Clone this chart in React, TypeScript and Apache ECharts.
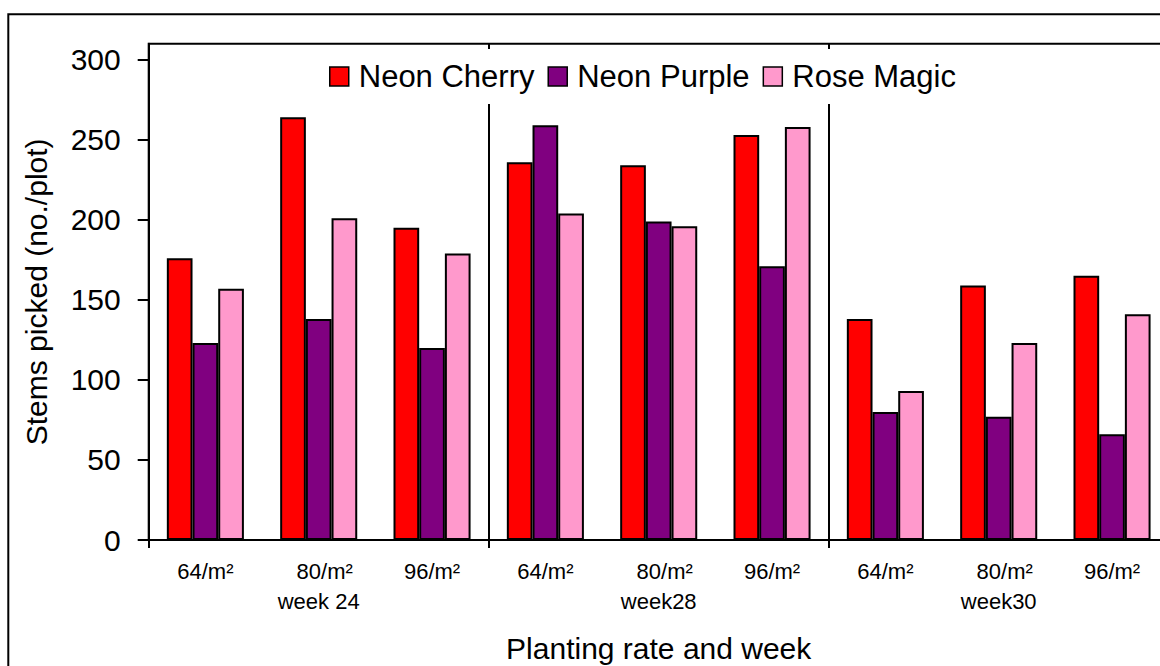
import React, { useEffect, useRef } from "react";
import * as echarts from "echarts";

const rates = ["64/m²", "80/m²", "96/m²"];
const weeks = ["week 24", "week28", "week30"];
const seriesNames = ["Neon Cherry", "Neon Purple", "Rose Magic"];
const neonCherry = [176, 264, 195, 236, 234, 253, 138, 159, 165];
const neonPurple = [123, 138, 120, 259, 199, 171, 80, 77, 66];
const roseMagic = [157, 201, 179, 204, 196, 258, 93, 123, 141];
const yTicks = [0, 50, 100, 150, 200, 250, 300];
const colors = ["#FF0000", "#800080", "#FF99CC"];

const categories: string[] = [];
weeks.forEach((w) => {
  rates.forEach((r) => {
    categories.push(r);
  });
});

const FONT = '"Liberation Sans", Arial, Helvetica, sans-serif';

export default function App() {
  const ref = useRef<HTMLDivElement>(null);
  useEffect(() => {
    if (!ref.current) return;
    const chart = echarts.init(ref.current, null, { renderer: "svg" });
    const dataSets = [neonCherry, neonPurple, roseMagic];
    chart.setOption({
      animation: false,
      backgroundColor: "#ffffff",
      textStyle: { fontFamily: FONT, color: "#000" },
      graphic: [
        {
          type: "rect",
          z: -10,
          shape: { x: 8.3, y: 14.3, width: 1400, height: 900 },
          style: { fill: "none", stroke: "#000", lineWidth: 2 },
          silent: true,
        },
      ],
      grid: {
        left: 148.7,
        top: 43.7,
        width: 1020,
        height: 496.3,
        show: true,
        borderColor: "#000",
        borderWidth: 2,
        backgroundColor: "transparent",
        containLabel: false,
        outerBoundsMode: "none",
      },
      legend: {
        data: seriesNames,
        icon: "rect",
        left: 321,
        top: 49,
        padding: [12, 8, 12, 8],
        backgroundColor: "#ffffff",
        itemWidth: 19,
        itemHeight: 19,
        itemGap: 13,
        z: 10,
        itemStyle: { borderColor: "#000", borderWidth: 1.5 },
        textStyle: {
          fontFamily: FONT,
          fontSize: 31,
          color: "#000",
          padding: [0, 0, 0, 5],
        },
      },
      xAxis: {
        type: "category",
        data: categories,
        boundaryGap: true,
        name: "Planting rate and week",
        nameLocation: "middle",
        nameGap: 93,
        nameTextStyle: { fontFamily: FONT, fontSize: 30, color: "#000" },
        axisLine: { show: true, lineStyle: { color: "#000", width: 2 } },
        axisTick: {
          show: true,
          length: 8,
          interval: (i: number) => i % 3 === 0,
          lineStyle: { color: "#000", width: 2 },
        },
        splitLine: {
          show: true,
          interval: (i: number) => i === 3 || i === 6,
          lineStyle: { color: "#000", width: 2 },
        },
        axisLabel: {
          interval: 0,
          fontFamily: FONT,
          fontSize: 22,
          lineHeight: 30,
          margin: 16,
          color: "#000",
          formatter: (value: string, index: number) => {
            const wi = Math.floor(index / 3);
            if (index % 3 === 1) {
              return "{a|" + value + "}\n{b|" + weeks[wi] + "}";
            }
            return "{b|" + value + "}";
          },
          rich: {
            a: {
              fontFamily: FONT,
              fontSize: 22,
              lineHeight: 30,
              color: "#000",
              padding: [0, 0, 0, 12],
            },
            b: {
              fontFamily: FONT,
              fontSize: 22,
              lineHeight: 30,
              color: "#000",
            },
          },
        },
      },
      yAxis: {
        type: "value",
        min: 0,
        max: 310,
        interval: 50,
        name: "Stems picked (no./plot)",
        nameLocation: "middle",
        nameGap: 97,
        nameTextStyle: { fontFamily: FONT, fontSize: 30, color: "#000" },
        axisLine: { show: true, lineStyle: { color: "#000", width: 2 } },
        axisTick: {
          show: true,
          length: 11,
          customValues: yTicks,
          lineStyle: { color: "#000", width: 2 },
        },
        splitLine: { show: false },
        axisLabel: {
          customValues: yTicks,
          fontFamily: FONT,
          fontSize: 30,
          margin: 28,
          color: "#000",
        },
      },
      series: seriesNames.map((name, i) => ({
        name,
        type: "bar",
        data: dataSets[i],
        barGap: "0%",
        barCategoryGap: "32%",
        itemStyle: { color: colors[i], borderColor: "#000", borderWidth: 2 },
      })),
    });
    return () => chart.dispose();
  }, []);
  return (
    <div
      ref={ref}
      style={{ position: "fixed", left: 0, top: 0, width: 1160, height: 666 }}
    />
  );
}
